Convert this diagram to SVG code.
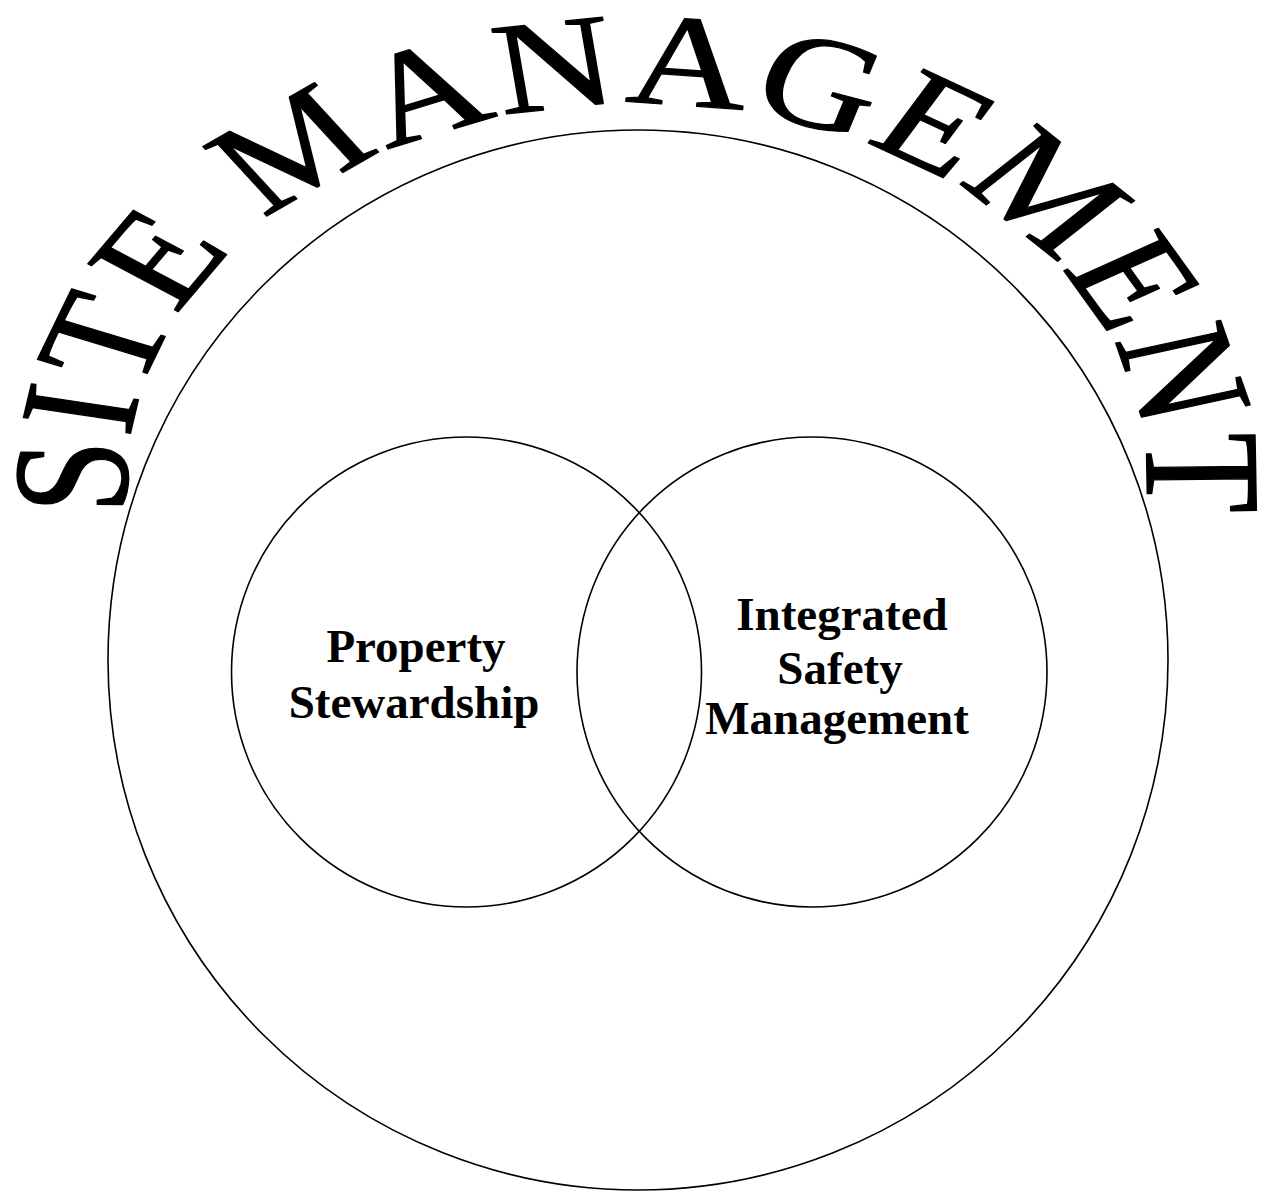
<svg xmlns="http://www.w3.org/2000/svg" width="1262" height="1194" viewBox="0 0 1262 1194">
  <style>
    .ring { fill: none; stroke: #000; stroke-width: 1.6; }
    .label { font-family: "Liberation Serif", "Times New Roman", serif; font-weight: bold; font-size: 47px; text-anchor: middle; fill: #000; }
    .arch { font-family: "Liberation Serif", "Times New Roman", serif; font-size: 166px; letter-spacing: 3.1px; fill: #000; stroke: #000; stroke-width: 1.6; stroke-linejoin: round; }
  </style>
  <defs>
    <!-- baseline of the arched title, drawn before a vertical squash of 0.79:
         half ellipse (rx 510, ry 476) with vertical legs -->
    <path id="archBase" d="M127,580 L127,480 A510,476 0 0 1 1147,480 L1147,580"/>
  </defs>
  <rect width="1262" height="1194" fill="#fff"/>

  <g id="site-management">
    <circle class="ring" cx="638" cy="660" r="530"/>
    <g transform="matrix(1,0,0,0.79,0,100.8)">
      <text class="arch"><textPath href="#archBase" startOffset="57.6">SITE MANAGEMENT</textPath></text>
    </g>
  </g>

  <g id="property-stewardship">
    <circle class="ring" cx="466.5" cy="672" r="235"/>
    <text class="label" x="416" y="662">Property</text>
    <text class="label" x="414" y="718">Stewardship</text>
  </g>

  <g id="integrated-safety-management">
    <circle class="ring" cx="812" cy="672" r="235"/>
    <text class="label" x="842" y="630">Integrated</text>
    <text class="label" x="840" y="684">Safety</text>
    <text class="label" x="837" y="734">Management</text>
  </g>
</svg>
